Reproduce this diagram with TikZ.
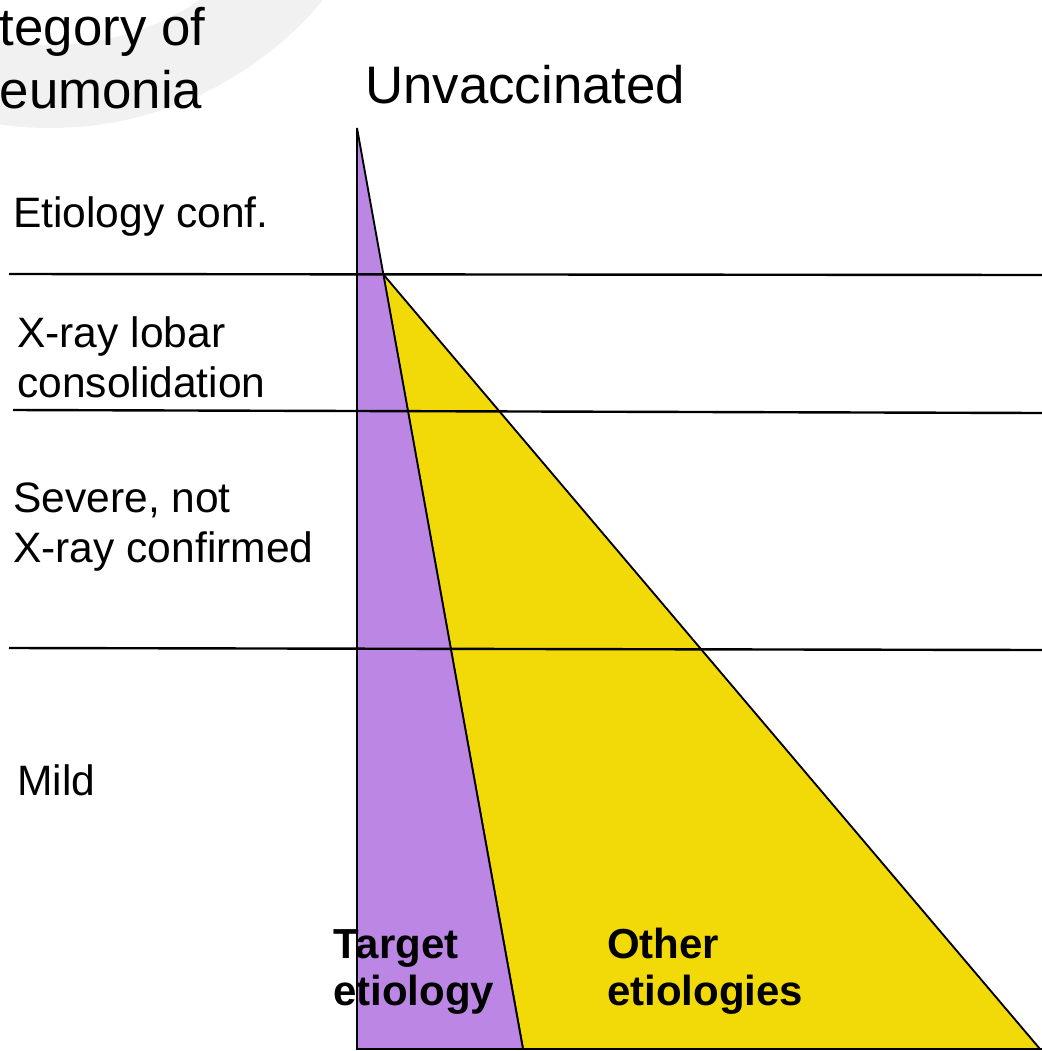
\documentclass[tikz,border=0pt]{standalone}
\usepackage{fontspec}
\setmainfont{Liberation Sans}
\definecolor{targetpurple}{RGB}{187,134,228}
\definecolor{otheryellow}{RGB}{242,217,8}
\definecolor{logogray}{RGB}{241,241,241}
\begin{document}
\begin{tikzpicture}[x=0.75pt,y=-0.75pt,
  titletext/.style={anchor=base west,inner sep=0pt,font=\fontsize{39.6}{47}\selectfont},
  cattext/.style={anchor=base west,inner sep=0pt,font=\fontsize{31.9}{37.5}\selectfont},
  boldtext/.style={anchor=base west,inner sep=0pt,font=\fontsize{31.5}{37.5}\selectfont\bfseries},
  rowline/.style={line width=1.8pt,black},
  wedge/.style={line width=1.4pt,black,line join=miter}]
\useasboundingbox (0,0) rectangle (1042,1051);
\clip (0,0) rectangle (1042,1051);
% faint background logo
\fill[logogray,even odd rule] (50,-227) circle (355) (50,-227) circle (272);
% key points
\coordinate (apex) at (357,128);
\coordinate (split) at (383,274);
\coordinate (baseL) at (357,1049);
\coordinate (baseM) at (523,1049);
\coordinate (baseR) at (1040,1049);
% wedges
\filldraw[wedge,fill=otheryellow] (split) -- (baseM) -- (baseR) -- cycle;
\filldraw[wedge,fill=targetpurple] (apex) -- (baseL) -- (baseM) -- cycle;
\draw[line width=2pt] (baseL) -- (1042,1049);
% row lines
\coordinate (r1l) at (9,274);  \coordinate (r1r) at (1042,275);
\coordinate (r2l) at (13,410); \coordinate (r2r) at (1042,413);
\coordinate (r3l) at (9,648);  \coordinate (r3r) at (1042,650);
\draw[rowline] (r1l) -- (r1r);
\draw[rowline] (r2l) -- (r2r);
\draw[rowline] (r3l) -- (r3r);
% titles
\node[titletext] (cat1) at (-68,45) {Category of};
\node[titletext] (cat2) at (-65,108) {Pneumonia};
\node[titletext] (unvac) at (365,103) {Unvaccinated};
% row labels
\node[cattext] (etio) at (13,227) {Etiology conf.};
\node[cattext] (xray1) at (17,347) {X-ray lobar};
\node[cattext] (xray2) at (17,397) {consolidation};
\node[cattext] (sev1) at (13,512) {Severe, not};
\node[cattext] (sev2) at (13,562) {X-ray confirmed};
\node[cattext] (mild) at (17,795) {Mild};
% wedge labels
\node[boldtext] (tgt1) at (333,958) {Target};
\node[boldtext] (tgt2) at (333,1005) {etiology};
\node[boldtext] (oth1) at (607,958) {Other};
\node[boldtext] (oth2) at (607,1005) {etiologies};
\end{tikzpicture}
\end{document}
